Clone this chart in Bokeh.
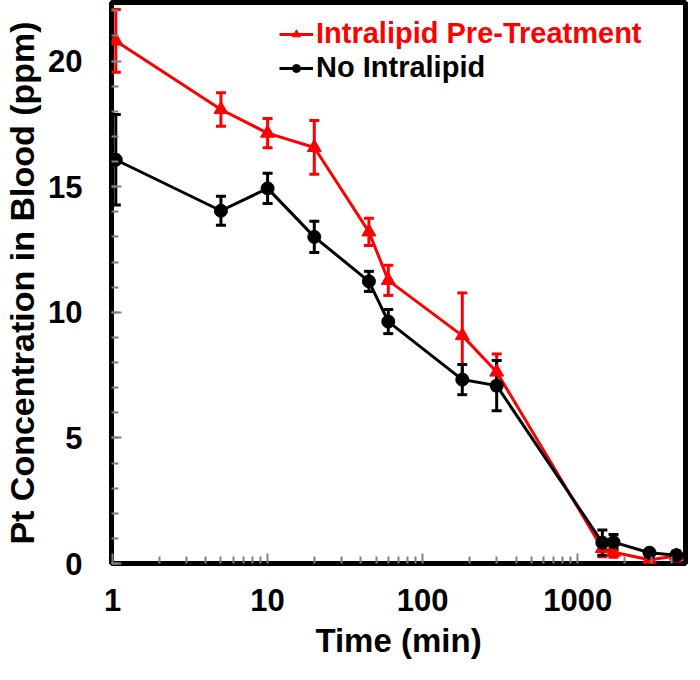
from bokeh.plotting import figure
from bokeh.models import (ColumnDataSource, Whisker, TeeHead, Range1d, FixedTicker,
                          SingleIntervalTicker, NumeralTickFormatter, Legend, LegendItem)
from bokeh.embed import file_html
from bokeh.resources import INLINE

# ---- data ----
time_min = [1.05, 5, 10, 20, 45, 60, 180, 300, 1440, 1700, 2900, 4320]
intralipid = [20.8, 18.07, 17.13, 16.56, 13.2, 11.27, 9.07, 7.62, 0.6, 0.45, 0.15, 0.3]
intralipid_err = [1.25, 0.67, 0.58, 1.07, 0.54, 0.6, 1.7, 0.72, 0.33, 0.2, 0.1, 0.2]
no_intralipid = [16.07, 14.04, 14.93, 13.0, 11.23, 9.63, 7.32, 7.08, 0.83, 0.85, 0.43, 0.33]
no_intralipid_err = [1.8, 0.58, 0.6, 0.62, 0.4, 0.48, 0.6, 1.0, 0.5, 0.3, 0.12, 0.1]

x_major = [1, 10, 100, 1000]
y_major_interval = 5

FONT = "Liberation Sans"

src_red = ColumnDataSource(dict(
    t=time_min, y=intralipid,
    upper=[v + e for v, e in zip(intralipid, intralipid_err)],
    lower=[v - e for v, e in zip(intralipid, intralipid_err)]))
src_blk = ColumnDataSource(dict(
    t=time_min, y=no_intralipid,
    upper=[v + e for v, e in zip(no_intralipid, no_intralipid_err)],
    lower=[v - e for v, e in zip(no_intralipid, no_intralipid_err)]))

p = figure(width=692, height=672, x_axis_type="log",
           x_range=Range1d(0.985, 4950), y_range=Range1d(0, 22.33),
           output_backend="svg", toolbar_location=None,
           min_border_left=107, min_border_right=7, min_border_top=2, min_border_bottom=109)

p.grid.visible = False
p.outline_line_color = "black"
p.outline_line_width = 5
p.background_fill_color = "white"

# error bars
for src, col in ((src_red, "red"), (src_blk, "black")):
    w = Whisker(source=src, base="t", upper="upper", lower="lower",
                line_color=col, line_width=3,
                upper_head=TeeHead(size=10, line_color=col, line_width=3),
                lower_head=TeeHead(size=10, line_color=col, line_width=3))
    p.add_layout(w)

r_line = p.line("t", "y", source=src_red, line_color="red", line_width=3)
r_pts = p.scatter("t", "y", source=src_red, marker="triangle", size=14, color="red")
b_line = p.line("t", "y", source=src_blk, line_color="black", line_width=3)
b_pts = p.scatter("t", "y", source=src_blk, marker="circle", size=13, color="black")

# axes
minor = [m * d for d in (1, 10, 100, 1000) for m in range(2, 10) if m * d < 5000]
p.xaxis.ticker = FixedTicker(ticks=x_major, minor_ticks=minor)
p.xaxis.formatter = NumeralTickFormatter(format="0")
p.yaxis.ticker = SingleIntervalTicker(interval=y_major_interval, num_minor_ticks=5)

for ax in (p.xaxis[0], p.yaxis[0]):
    ax.axis_line_color = None
    ax.major_tick_in = 10
    ax.major_tick_out = 0
    ax.minor_tick_in = 7
    ax.minor_tick_out = 0
    ax.major_tick_line_color = "#808080"
    ax.minor_tick_line_color = "#808080"
    ax.major_tick_line_width = 2
    ax.minor_tick_line_width = 2
    ax.major_label_text_font = FONT
    ax.major_label_text_font_style = "bold"
    ax.major_label_text_font_size = "31px"
    ax.major_label_text_color = "black"
    ax.axis_label_text_font = FONT
    ax.axis_label_text_font_style = "bold"
    ax.axis_label_text_color = "black"

p.xaxis.axis_label = "Time (min)"
p.xaxis.axis_label_text_font_size = "33px"
p.xaxis.major_label_standoff = 25
p.xaxis.axis_label_standoff = 8

p.yaxis.axis_label = "Pt Concentration in Blood (ppm)"
p.yaxis.axis_label_text_font_size = "34px"
p.yaxis.major_label_standoff = 29
p.yaxis.axis_label_standoff = 4

# legends (two, to colour the labels separately)
def make_legend(items, color, loc):
    lg = Legend(items=items, location=loc, label_text_color=color,
                label_text_font=FONT, label_text_font_style="bold",
                label_text_font_size="29px", glyph_width=34, glyph_height=20,
                label_standoff=3, padding=0, margin=0, spacing=0,
                border_line_alpha=0, background_fill_alpha=0)
    p.add_layout(lg, "center")

make_legend([LegendItem(label="Intralipid Pre-Treatment", renderers=[r_line, r_pts])], "red", (168, 513))
make_legend([LegendItem(label="No Intralipid", renderers=[b_line, b_pts])], "black", (168, 479))

open("out.html", "w").write(file_html(p, INLINE))
